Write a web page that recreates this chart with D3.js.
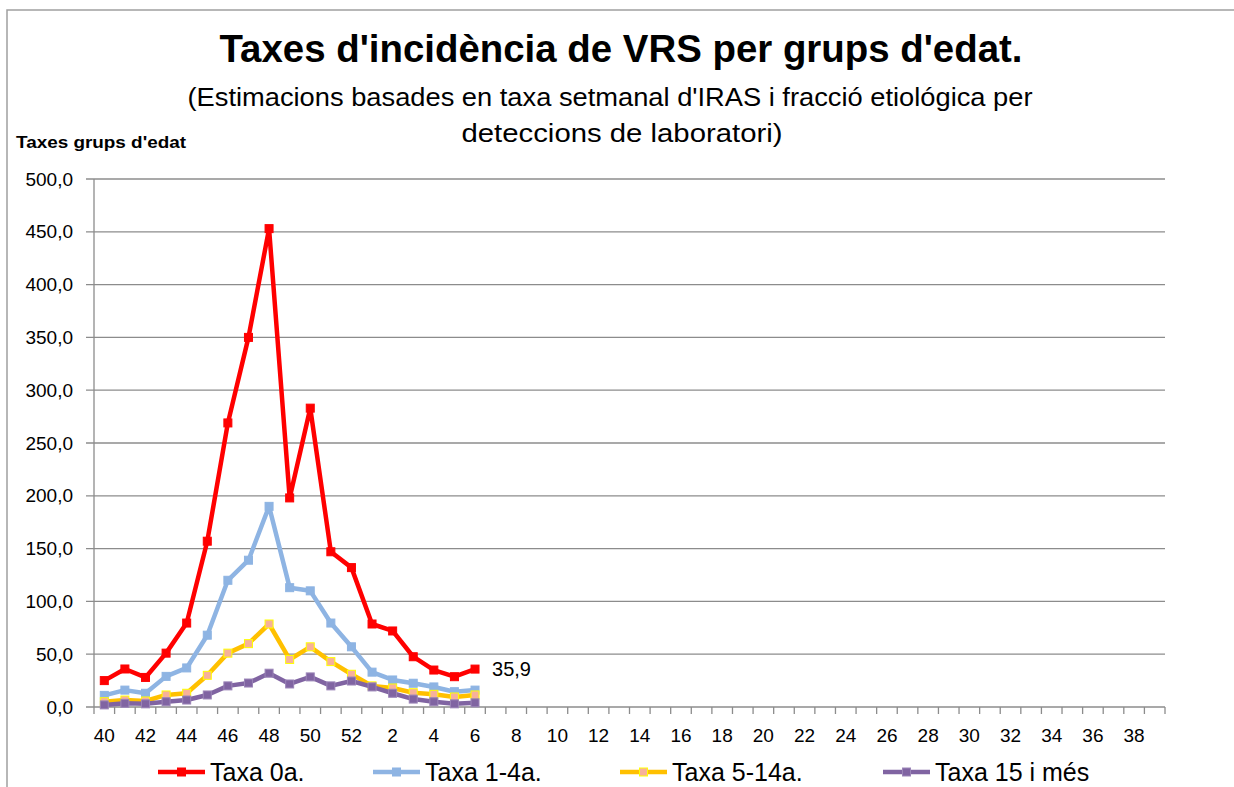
<!DOCTYPE html>
<html>
<head>
<meta charset="utf-8">
<script src="https://d3js.org/d3.v7.min.js"></script>
<style>
  body { margin: 0; background: #fff; }
  svg text { font-family: "Liberation Sans Narrow", "Liberation Sans", Arial, sans-serif; fill: #000; }
</style>
</head>
<body>
<svg id="chart" width="1234" height="787"></svg>
<script>
// weeks shown on the x axis (season 40..52 then 1..39)
var weeks = d3.range(40, 53).concat(d3.range(1, 40)).map(String);
var weekLabels = weeks.filter(function(d, i) { return i % 2 == 0; });
var yTicks = [0, 50, 100, 150, 200, 250, 300, 350, 400, 450, 500];

// rates per age group, weeks 40..6
var taxa0 = [25, 36, 28, 51, 79.5, 157, 269, 350, 453, 198, 283, 147, 132, 78.6, 72, 47.6, 35, 28.7, 35.9];
var taxa1_4 = [11, 16, 13, 29, 37, 68, 120, 139, 190, 113, 110, 79.5, 57, 33, 25.6, 22.5, 19, 14.5, 16];
var taxa5_14 = [5, 6.6, 5.7, 11.4, 13, 30, 51, 60, 78.6, 45, 57, 43, 31, 20, 18, 13.5, 12, 9.5, 11.4];
var taxa15 = [2, 3.5, 3, 5, 6.6, 11.4, 20, 22.7, 32, 21.8, 28.5, 20, 24.6, 19, 13, 7.5, 5, 3, 4];

var seriesNames = ['Taxa 0a.', 'Taxa 1-4a.', 'Taxa 5-14a.', 'Taxa 15 i més'];
var seriesData = [taxa0, taxa1_4, taxa5_14, taxa15];
var lineColors = ['#ff0000', '#8eb4e3', '#ffc000', '#8064a2'];
var markFill = ['#ff0000', '#8eb4e3', '#f7b19a', '#8064a2'];
var markStroke = ['#ff0000', '#8eb4e3', '#ffff00', '#9b85b8'];

var svg = d3.select('#chart');

// outer frame of the chart object
svg.append('path').attr('d', 'M7,787 V10 H1234').attr('fill', 'none')
  .attr('stroke', '#a0a0a0').attr('stroke-width', 1.5);

var x = d3.scaleBand().domain(weeks).range([94, 1165]);
var y = d3.scaleLinear().domain([0, 500]).range([707, 179]);

// gridlines
svg.append('g').selectAll('line').data(yTicks).enter().append('line')
  .attr('x1', 86).attr('x2', 1165)
  .attr('y1', function(d) { return y(d); }).attr('y2', function(d) { return y(d); })
  .attr('stroke', '#8c8c8c').attr('stroke-width', 1.3);

// y axis
svg.append('line').attr('x1', 94).attr('x2', 94).attr('y1', y(500)).attr('y2', y(0))
  .attr('stroke', '#8c8c8c').attr('stroke-width', 1.3);
svg.append('g').selectAll('text').data(yTicks).enter().append('text')
  .attr('x', 73).attr('y', function(d) { return y(d); })
  .attr('dy', '0.35em').attr('text-anchor', 'end').style('font-size', '19px')
  .text(function(d) { return d3.format('.1f')(d).replace('.', ','); });

// x axis ticks at category boundaries
var bounds = weeks.map(function(d) { return x(d); }).concat([x.range()[1]]);
svg.append('g').selectAll('line').data(bounds).enter().append('line')
  .attr('x1', function(d) { return d; }).attr('x2', function(d) { return d; })
  .attr('y1', 707).attr('y2', 714)
  .attr('stroke', '#8c8c8c').attr('stroke-width', 1.3);
svg.append('g').selectAll('text').data(weekLabels).enter().append('text')
  .attr('x', function(d) { return x(d) + x.bandwidth() / 2; }).attr('y', 742)
  .attr('text-anchor', 'middle').style('font-size', '19px')
  .text(function(d) { return d; });

// series
var line = d3.line()
  .x(function(d, i) { return x(weeks[i]) + x.bandwidth() / 2; })
  .y(function(d) { return y(d); });

seriesData.forEach(function(vals, k) {
  var g = svg.append('g');
  g.append('path').datum(vals).attr('d', line).attr('fill', 'none')
    .attr('stroke', lineColors[k]).attr('stroke-width', 4.5).attr('stroke-linejoin', 'round');
  g.selectAll('rect').data(vals).enter().append('rect')
    .attr('x', function(d, i) { return x(weeks[i]) + x.bandwidth() / 2 - 4; })
    .attr('y', function(d) { return y(d) - 4; })
    .attr('width', 8).attr('height', 8)
    .attr('fill', markFill[k]).attr('stroke', markStroke[k]).attr('stroke-width', 1);
});

// data label on the last point of the first series
var lastI = taxa0.length - 1;
svg.append('text')
  .attr('x', x(weeks[lastI]) + x.bandwidth() / 2 + 17).attr('y', y(taxa0[lastI]) + 7)
  .style('font-size', '20px')
  .text(d3.format('.1f')(taxa0[lastI]).replace('.', ','));

// titles
svg.append('text').attr('x', 621).attr('y', 62).attr('text-anchor', 'middle')
  .style('font-size', '38px').style('font-weight', 'bold')
  .attr('textLength', 803).attr('lengthAdjust', 'spacingAndGlyphs')
  .text("Taxes d'incidència de VRS per grups d'edat.");
svg.append('text').attr('x', 610).attr('y', 106).attr('text-anchor', 'middle')
  .style('font-size', '26px')
  .attr('textLength', 845).attr('lengthAdjust', 'spacingAndGlyphs')
  .text("(Estimacions basades en taxa setmanal d'IRAS i fracció etiológica per");
svg.append('text').attr('x', 622).attr('y', 142).attr('text-anchor', 'middle')
  .style('font-size', '26px')
  .attr('textLength', 321).attr('lengthAdjust', 'spacingAndGlyphs')
  .text('deteccions de laboratori)');
svg.append('text').attr('x', 16).attr('y', 148)
  .style('font-size', '16px').style('font-weight', 'bold')
  .attr('textLength', 170).attr('lengthAdjust', 'spacingAndGlyphs')
  .text("Taxes grups d'edat");

// legend
var legX = [158, 373, 620, 883];
var legend = svg.append('g').selectAll('g').data(seriesNames).enter().append('g')
  .attr('transform', function(d, i) { return 'translate(' + legX[i] + ',772)'; });
legend.append('line').attr('x1', 0).attr('x2', 47).attr('y1', 0).attr('y2', 0)
  .attr('stroke', function(d, i) { return lineColors[i]; }).attr('stroke-width', 4.5);
legend.append('rect').attr('x', 19.5).attr('y', -4).attr('width', 8).attr('height', 8)
  .attr('fill', function(d, i) { return markFill[i]; })
  .attr('stroke', function(d, i) { return markStroke[i]; });
legend.append('text').attr('x', 52).attr('y', 0).attr('dy', '0.35em').style('font-size', '25px')
  .text(function(d) { return d; });
</script>
</body>
</html>
